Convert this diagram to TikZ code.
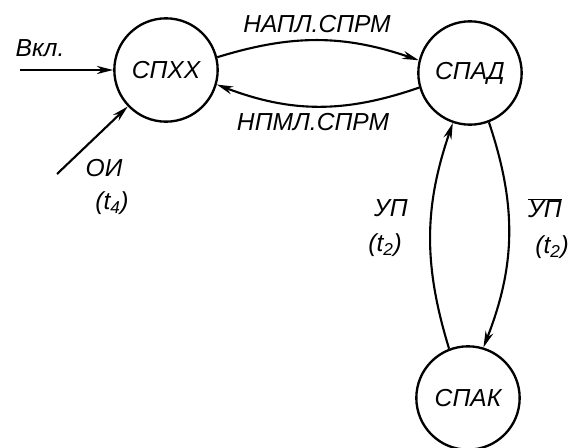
\documentclass[tikz,border=0pt]{standalone}
\usepackage{fontspec}
\setmainfont{Liberation Sans}
\usetikzlibrary{arrows.meta,positioning}

\begin{document}
\begin{tikzpicture}[x=0.03cm,y=0.03cm,
    state/.style={draw, circle, line width=2pt, minimum size=3.1cm, inner sep=0pt, font=\fontsize{21}{24}\selectfont\itshape},
    lbl/.style={font=\fontsize{21}{24}\selectfont\itshape, inner sep=1pt},
    arr/.style={-{Stealth[length=14pt,width=7pt]}, line width=1.8pt}]
    \useasboundingbox (0,0) rectangle (575,-448);
    % Draw the three states
    \node[state] (spxx) at (166,-70) {СПХХ};
    \node[state] (spad) at (470,-73) {СПАД};
    \node[state] (spak) at (468,-398) {СПАК};
    % Free ends of the two input arrows
    \coordinate (vkl) at (20,-70);
    \coordinate (oi) at (57,-174);
    \draw[arr] (vkl) -- (spxx);
    \draw[arr] (oi) -- (spxx);
    % Transitions between the states
    \draw[arr] (spxx.14) to[bend left=18] (spad.166);
    \draw[arr] (spad.196) to[bend left=20] (spxx.-16);
    \draw[arr] (spad.-69) to[bend left=20] (spak.73);
    \draw[arr] (spak.111) to[bend left=18] (spad.-109);
    % Labels
    \node[lbl] (lvkl) at (40,-48) {Вкл.};
    \node[lbl] (loi) at (104,-168) {ОИ};
    \node[lbl] (lt4) at (112,-203) {(t\textsubscript{4})};
    \node[lbl] (lnap) at (317,-24) {НАПЛ.СПРМ};
    \node[lbl] (lnpm) at (313,-122) {НПМЛ.СПРМ};
    \node[lbl] (lup) at (391,-208) {УП};
    \node[lbl] (lt2a) at (385,-245) {(t\textsubscript{2})};
    \node[lbl] (lnup) at (545,-208) {$\overline{\mbox{УП}}$};
    \node[lbl] (lt2b) at (552,-247) {(t\textsubscript{2})};
\end{tikzpicture}
\end{document}
